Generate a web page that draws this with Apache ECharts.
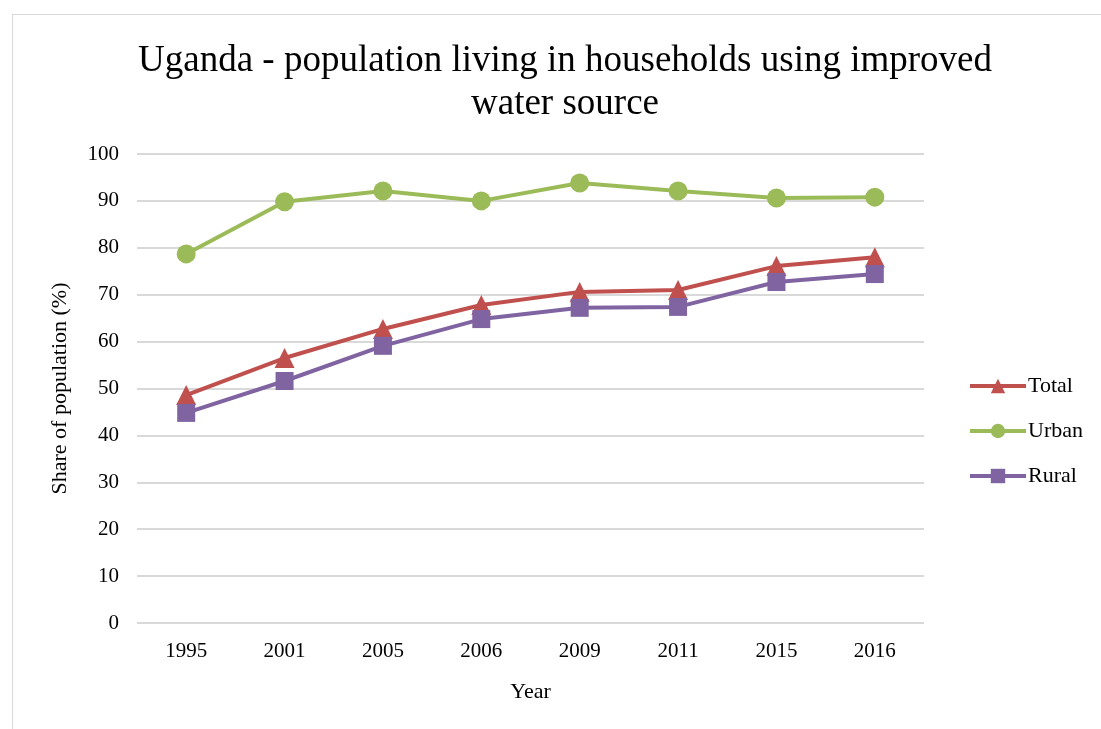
<!DOCTYPE html>
<html>
<head>
<meta charset="utf-8">
<script src="https://cdn.jsdelivr.net/npm/echarts@6/dist/echarts.min.js"></script>
<style>
  html, body { margin: 0; padding: 0; background: #fff; }
  #frame {
    position: absolute; left: 12px; top: 14px;
    width: 1100px; height: 720px;
    border: 1px solid #d9d9d9; box-sizing: border-box;
  }
  #chart { position: absolute; left: 0; top: 0; width: 1101px; height: 729px; }
</style>
</head>
<body>
<div id="frame"></div>
<div id="chart"></div>
<script>
  // 数据
  var years = ['1995', '2001', '2005', '2006', '2009', '2011', '2015', '2016'];
  var total = [48.6, 56.5, 62.7, 67.8, 70.6, 71.0, 76.1, 78.0];
  var urban = [78.7, 89.8, 92.1, 90.0, 93.8, 92.1, 90.6, 90.8];
  var rural = [44.8, 51.6, 59.1, 64.8, 67.2, 67.4, 72.7, 74.4];

  var font = '"Liberation Serif", "Times New Roman", serif';

  let myChart = echarts.init(document.getElementById('chart'));
  myChart.setOption({
    animation: false,
    title: {
      text: 'Uganda - population living in households using improved\nwater source',
      left: 560,
      textAlign: 'center',
      top: 35,
      textStyle: {
        fontFamily: font,
        fontSize: 37,
        fontWeight: 'normal',
        color: '#000',
        lineHeight: 43
      }
    },
    legend: {
      orient: 'vertical',
      left: 963,
      top: 370,
      itemWidth: 56,
      itemHeight: 18,
      itemGap: 23,
      lineStyle: { width: 4 },
      textStyle: { fontFamily: font, fontSize: 22, color: '#000', padding: [0, 0, 0, -3] },
      data: ['Total', 'Urban', 'Rural']
    },
    grid: {
      left: 137,
      right: 177,
      top: 154,
      bottom: 106
    },
    xAxis: {
      type: 'category',
      data: years,
      name: 'Year',
      nameLocation: 'middle',
      nameGap: 58,
      nameTextStyle: { fontFamily: font, fontSize: 22, color: '#000' },
      axisLine: { show: false },
      axisTick: { show: false },
      axisLabel: { fontFamily: font, fontSize: 21, color: '#000', margin: 18 }
    },
    yAxis: {
      type: 'value',
      min: 0,
      max: 100,
      interval: 10,
      name: 'Share of population (%)',
      nameLocation: 'middle',
      nameGap: 66,
      nameTextStyle: { fontFamily: font, fontSize: 22, color: '#000' },
      axisLine: { show: false },
      axisTick: { show: false },
      axisLabel: { fontFamily: font, fontSize: 21, color: '#000', margin: 18 },
      splitLine: { lineStyle: { color: '#d9d9d9', width: 2 } }
    },
    series: [
      {
        name: 'Total',
        type: 'line',
        data: total,
        symbol: 'triangle',
        symbolSize: 20,
        color: '#c0504d',
        lineStyle: { width: 4 }
      },
      {
        name: 'Urban',
        type: 'line',
        data: urban,
        symbol: 'circle',
        symbolSize: 19,
        color: '#9bbb59',
        lineStyle: { width: 4 }
      },
      {
        name: 'Rural',
        type: 'line',
        data: rural,
        symbol: 'rect',
        symbolSize: 18,
        color: '#8064a2',
        lineStyle: { width: 4 }
      }
    ]
  });
</script>
</body>
</html>
